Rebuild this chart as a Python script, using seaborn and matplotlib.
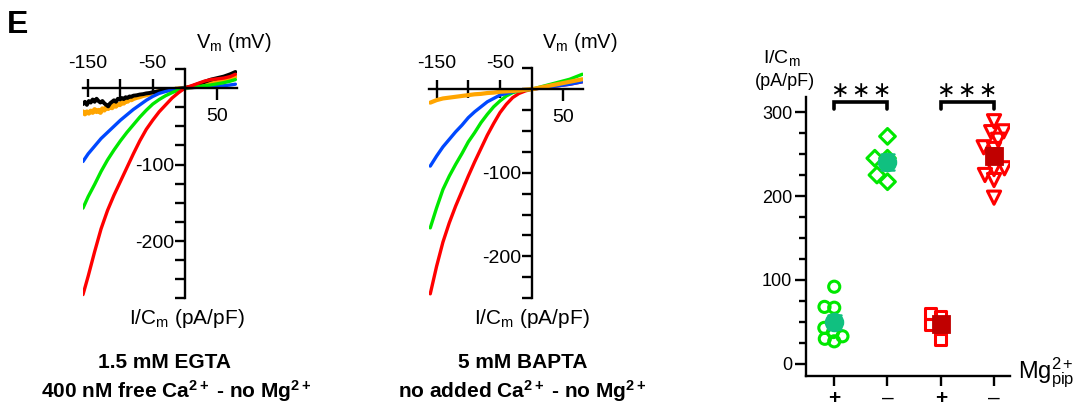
import numpy as np
import pandas as pd
import matplotlib
matplotlib.use("Agg")
import matplotlib.pyplot as plt
import seaborn as sns

# ------------------------------------------------------------------ data
# Panel 1: 1.5 mM EGTA, I/Cm (pA/pF) vs Vm (mV)
egta_v = [-158, -150, -140, -130, -120, -110, -100, -90, -80, -70, -60, -50,
          -40, -30, -20, -10, 0, 10, 20, 30, 40, 50, 60, 70, 78]
egta_red = [-270, -246, -214, -184, -160, -140, -122, -104, -86, -69, -54, -42,
            -31, -22, -13, -6, 0, 3, 6, 9, 11, 12, 13, 15, 18]
egta_green = [-157, -142, -126, -109, -94, -81, -69, -58, -48, -38, -29, -21,
              -15, -10, -6, -2.5, 0, 1, 2, 3, 4, 5.5, 7, 9, 11]
egta_blue = [-96, -86, -76, -66, -58, -50, -42, -35, -28, -22, -16, -11,
             -7, -4.5, -2.5, -1, 0, 0.5, 1, 1.5, 2, 2.5, 3, 4, 5]
egta_noisy_v = [-158, -155, -152, -149, -146, -143, -140, -137, -134, -131, -128,
                -125, -122, -119, -116, -113, -110, -107, -104, -101, -98, -95,
                -92, -89, -86, -83, -80, -75, -70, -65, -60, -55, -50, -45, -40,
                -35, -30, -25, -20, -15, -10, -5, 0, 10, 20, 30, 40, 50, 60, 70, 78]
egta_orange = [-31, -34, -31, -33, -30, -32, -28, -31, -29, -32, -27, -29, -25,
               -27, -24, -26, -22, -24, -21, -22, -19, -20, -17, -17.5, -15, -15.5,
               -14, -12.5, -11.5, -10, -9, -8, -7, -5.5, -4.5, -3.5, -3,
               -2.5, -2, -1.5, -1, -0.5, 0, 1, 3, 5, 7, 9, 11, 13, 15]
egta_black = [-21, -18, -22, -17, -19, -15, -18, -14, -17, -19, -17, -20, -22,
              -24, -20, -18, -16, -18, -14, -15, -13, -14.5, -12, -13, -11, -11.5,
              -10, -9.5, -8.5, -8, -7, -6.5, -5.5, -5, -4, -3.5, -3, -2.5, -2, -1.5,
              -1, -0.5, 0, 2, 5, 8, 11, 13, 15, 18, 21]

# Panel 2: 5 mM BAPTA
bapta_v = [-160, -150, -140, -130, -120, -110, -100, -90, -80, -70, -60, -50,
           -40, -30, -20, -10, 0, 10, 20, 30, 40, 50, 60, 70, 80]
bapta_red = [-245, -212, -183, -160, -140, -122, -104, -87, -71, -55, -41, -28,
             -18, -10, -5, -2, 0, 1, 2, 3, 4, 5, 6, 7.5, 9]
bapta_green = [-166, -142, -120, -104, -90, -77, -63, -52, -40, -30, -21, -14,
               -8, -4, -2, -1, 0, 2, 4, 6, 8, 10, 12, 15, 18]
bapta_blue = [-92, -80, -69, -60, -51, -43, -34, -27, -21, -15, -11, -7, -5,
              -3, -1.5, -0.5, 0, 1, 2, 3, 4, 5, 6, 7.5, 9]
bapta_orange = [-16, -13, -11, -10, -9, -8, -7, -6, -5.5, -4.5, -4, -3, -2.5,
                -2, -1.5, -0.5, 0, 1.5, 3, 4.5, 6, 7.5, 9, 10.5, 12]

# Panel 3: peak I/Cm per cell (pA/pF)
groups = ["green +", "green -", "red +", "red -"]
group_ticklabels = ["+", "\u2013", "+", "\u2013"]
vals_green_plus = [92, 68, 67, 43, 38, 33, 30, 27]
vals_green_minus = [271, 245, 245, 225, 217]
vals_red_plus = [60, 56, 47, 44, 29]
vals_red_minus = [289, 277, 276, 267, 258, 256, 233, 232, 225, 219, 198]
sig_pairs = [(0, 1), (2, 3)]
sig_level = 312

# ------------------------------------------------------------------ style
sns.set_style("ticks")
plt.rcParams["font.family"] = ["Liberation Sans", "DejaVu Sans"]
plt.rcParams["mathtext.fontset"] = "custom"
plt.rcParams["mathtext.rm"] = "Liberation Sans"
plt.rcParams["mathtext.it"] = "Liberation Sans:italic"
plt.rcParams["mathtext.bf"] = "Liberation Sans:bold"
for k in ("text.color", "axes.labelcolor", "xtick.color", "ytick.color", "axes.edgecolor"):
    plt.rcParams[k] = "black"

W, H = 1087, 408
fig = plt.figure(figsize=(W / 100, H / 100), dpi=100)


def px_axes(left, top, right, bottom):
    return fig.add_axes([left / W, 1 - bottom / H, (right - left) / W, (bottom - top) / H])


def ftext(x, y, s, **kw):
    fig.text(x / W, 1 - y / H, s, **kw)


RED, GREEN, BLUE, ORANGE, BLACK = "#ff0000", "#00e800", "#0048ff", "#ffa500", "#000000"
LW_SPINE = 1.7
LW_TRACE = 2.4


def iv_axes(ax, xlim, ylim, minor_y):
    ax.set_xlim(*xlim)
    ax.set_ylim(*ylim)
    for s in ("top", "right"):
        ax.spines[s].set_visible(False)
    ax.spines["left"].set_position(("data", 0))
    ax.spines["bottom"].set_position(("data", 0))
    ax.spines["left"].set_linewidth(LW_SPINE)
    ax.spines["bottom"].set_linewidth(LW_SPINE)
    ax.set_xticks([-150, -100, -50], labels=["-150", "", "-50"])
    ax.set_xticks([50], labels=["50"], minor=True)
    ax.tick_params(axis="x", which="major", direction="inout", length=13,
                   width=LW_SPINE, bottom=True, top=False, labelbottom=False,
                   labeltop=True, labelsize=14, pad=-9)
    ax.tick_params(axis="x", which="minor", direction="out", length=8.5,
                   width=LW_SPINE, bottom=True, labelbottom=True, labelsize=14, pad=6)
    ax.set_yticks([-200, -100], labels=["-200", "-100"])
    ax.set_yticks(minor_y, minor=True)
    ax.tick_params(axis="y", which="both", direction="out", length=7.5,
                   width=LW_SPINE, left=True, labelsize=14, pad=0)
    ax.set_xlabel("")
    ax.set_ylabel("")
    ax.patch.set_alpha(0)


# ---------------- panel 1
ax1 = px_axes(83, 68.9, 236.7, 298.4)
sns.lineplot(x=egta_noisy_v, y=egta_orange, color=ORANGE, lw=LW_TRACE + 1.0, ax=ax1, sort=False, estimator=None)
sns.lineplot(x=egta_noisy_v, y=egta_black, color=BLACK, lw=LW_TRACE + 0.4, ax=ax1, sort=False, estimator=None)
sns.lineplot(x=egta_v, y=egta_blue, color=BLUE, lw=LW_TRACE, ax=ax1, sort=False, estimator=None)
sns.lineplot(x=egta_v, y=egta_green, color=GREEN, lw=LW_TRACE, ax=ax1, sort=False, estimator=None)
sns.lineplot(x=egta_v, y=egta_red, color=RED, lw=LW_TRACE, ax=ax1, sort=False, estimator=None)
iv_axes(ax1, (-158, 80), (-275, 25), np.arange(-275, 26, 25))

# ---------------- panel 2
ax2 = px_axes(429, 68.4, 583, 298)
sns.lineplot(x=bapta_v, y=bapta_red, color=RED, lw=LW_TRACE, ax=ax2, sort=False, estimator=None)
sns.lineplot(x=bapta_v, y=bapta_green, color=GREEN, lw=LW_TRACE, ax=ax2, sort=False, estimator=None)
sns.lineplot(x=bapta_v, y=bapta_blue, color=BLUE, lw=LW_TRACE, ax=ax2, sort=False, estimator=None)
sns.lineplot(x=bapta_v, y=bapta_orange, color=ORANGE, lw=LW_TRACE + 0.6, ax=ax2, sort=False, estimator=None)
iv_axes(ax2, (-162, 81), (-250, 25), np.arange(-250, 26, 25))

# axis texts for IV panels
for cx_v, cx_i in ((234, 187), (580, 532)):
    ftext(cx_v, 42, r"V$_{\rm m}$ (mV)", ha="center", va="center", fontsize=14.5)
    ftext(cx_i, 318, r"I/C$_{\rm m}$ (pA/pF)", ha="center", va="center", fontsize=15)

ftext(165, 363, "1.5 mM EGTA", ha="center", va="center", fontsize=15, fontweight="bold")
ftext(176, 391, r"400 nM free Ca$^{\mathbf{2+}}$ - no Mg$^{\mathbf{2+}}$", ha="center",
      va="center", fontsize=15, fontweight="bold")
ftext(523, 363, "5 mM BAPTA", ha="center", va="center", fontsize=15, fontweight="bold")
ftext(522, 391, r"no added Ca$^{\mathbf{2+}}$ - no Mg$^{\mathbf{2+}}$", ha="center",
      va="center", fontsize=15, fontweight="bold")

ftext(7, 25, "E", ha="left", va="center", fontsize=23, fontweight="bold")

# ---------------- panel 3
ax3 = px_axes(806, 96.9, 1010, 376)
ax3.set_xlim(-0.53, 3.30)
ax3.set_ylim(-14.3, 318)
df = pd.DataFrame({
    "group": [groups[0]] * len(vals_green_plus) + [groups[1]] * len(vals_green_minus)
             + [groups[2]] * len(vals_red_plus) + [groups[3]] * len(vals_red_minus),
    "value": vals_green_plus + vals_green_minus + vals_red_plus + vals_red_minus,
})
pt_markers = ["o", "D", "s", "v"]
pt_pack = [4.5, 6.5, 5.0, 5.0]        # marker size used to pack the swarm (points overlap)
pt_sizes = [8, 8, 8, 9.5]             # drawn marker size
pt_colors = [GREEN, GREEN, RED, RED]
swarm_sets = []
for g, mk, pk, sz, col in zip(groups, pt_markers, pt_pack, pt_sizes, pt_colors):
    sub = df[df["group"] == g]
    n_before = len(ax3.collections)
    sns.swarmplot(data=sub, x="group", y="value", order=groups, marker=mk,
                  color=col, size=pk, ax=ax3, zorder=3, warn_thresh=1)
    for coll in ax3.collections[n_before:]:
        coll.set_facecolor("none")
        coll.set_edgecolor(col)
        coll.set_linewidth(2.2)
        swarm_sets.append((coll, sz))
ax3.set_xlim(-0.53, 3.30)
ax3.set_ylim(-14.3, 318)
fig.canvas.draw()                      # fix the swarm positions, then enlarge markers
for coll, sz in swarm_sets:
    if "draw" in coll.__dict__:
        del coll.draw
    coll.set_sizes([sz ** 2])

sns.pointplot(data=df, x="group", y="value", hue="group", order=groups,
              hue_order=groups, palette=["#10c080", "#10c080", "#c00000", "#c00000"],
              markers=["o", "o", "s", "s"], linestyle="none", errorbar="se",
              capsize=0.25, err_kws={"linewidth": 1.8}, markersize=12,
              dodge=False, legend=False, ax=ax3, zorder=5)

for (a, b) in sig_pairs:
    ax3.plot([a, a, b, b], [sig_level - 8, sig_level, sig_level, sig_level - 8],
             color="black", lw=2.6, solid_joinstyle="miter", clip_on=False, zorder=6)
    ax3.text((a + b) / 2, sig_level + 13, "\u2217\u200a\u2217\u200a\u2217", ha="center",
             va="center", fontsize=16, family=["DejaVu Sans"])

ax3.set_xlim(-0.53, 3.30)
ax3.set_ylim(-14.3, 318)
for s in ("top", "right"):
    ax3.spines[s].set_visible(False)
ax3.spines["left"].set_linewidth(LW_SPINE)
ax3.spines["bottom"].set_linewidth(LW_SPINE)
ax3.set_yticks([0, 100, 200, 300])
ax3.set_yticks(np.arange(0, 301, 25), minor=True)
ax3.tick_params(axis="y", which="major", length=8, width=LW_SPINE, labelsize=13, pad=2)
ax3.tick_params(axis="y", which="minor", length=5, width=LW_SPINE)
ax3.set_xticks(range(len(groups)), labels=group_ticklabels)
ax3.tick_params(axis="x", length=7, width=LW_SPINE, labelsize=15, pad=2)
for lab, txt in zip(ax3.get_xticklabels(), group_ticklabels):
    if txt == "+":
        lab.set_fontweight("bold")
ax3.set_xlabel("")
ax3.set_ylabel("")
ax3.patch.set_alpha(0)

ftext(782, 58, r"I/C$_{\rm m}$", ha="center", va="center", fontsize=14)
ftext(785, 82, "(pA/pF)", ha="center", va="center", fontsize=13)
ftext(1018, 373, r"Mg$^{2+}_{\rm pip}$", ha="left", va="center", fontsize=17)

fig.savefig("out.png", dpi=100)
